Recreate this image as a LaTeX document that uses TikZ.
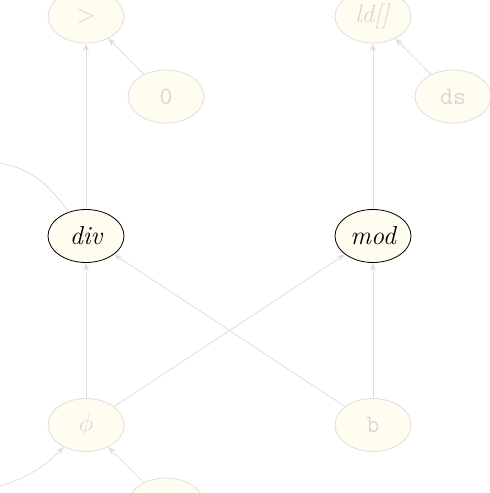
\documentclass[tikz,border=0pt]{standalone}
\usepackage{fontspec}
\usetikzlibrary{shapes.geometric,arrows.meta}
\definecolor{Ivory}{HTML}{FFFDEF}
\definecolor{FadeLine}{HTML}{DEDEDE}
\definecolor{FadeText}{HTML}{D6D6D6}
\begin{document}
\begin{tikzpicture}[x=1pt,y=1pt,
	Faded/.style={ellipse, draw=FadeLine, fill=Ivory, text=FadeText, line width=0.8pt,
		minimum width=76pt, minimum height=53pt, inner sep=0pt, font=\fontsize{25pt}{27pt}\selectfont},
	Focus/.style={ellipse, draw=black, fill=Ivory, text=black, line width=0.8pt,
		minimum width=76pt, minimum height=53pt, inner sep=0pt, font=\fontsize{26pt}{28pt}\selectfont\itshape},
	Edge/.style={draw=FadeLine, line width=0.8pt, -{Stealth[length=8pt,width=6pt,inset=3pt]}}]
	\useasboundingbox (0,0) rectangle (490,493);
	\clip (0,0) rectangle (490,493);

	% Define > 0
	\node[Faded] (NodeGt) at (86,476.5) {$>$};
	\node[Faded] (NodeZero) at (166,396.5) {\ttfamily 0};

	% Define ld[] ds
	\node[Faded] (NodeLd) at (373,476.5) {\textit{ld[]}};
	\node[Faded] (NodeDs) at (453,396.5) {\ttfamily ds};

	% Define div mod
	\node[Focus] (NodeDiv) at (86,257) {div};
	\node[Focus] (NodeMod) at (373,257) {mod};
	\coordinate (OutLeft) at (-5,330);

	% Define phi b
	\node[Faded] (NodePhi) at (86,68) {$\phi$};
	\node[Faded] (NodeB) at (373,68) {\ttfamily b};
	\node[Faded] (NodeBot) at (166,-11.5) {};
	\coordinate (InLeft) at (-5,5);

	\draw[Edge] (NodeZero) -- (NodeGt);
	\draw[Edge] (NodeDiv) -- (NodeGt);
	\draw[Edge] (NodeDs) -- (NodeLd);
	\draw[Edge] (NodeMod) -- (NodeLd);
	\draw[Edge] (NodePhi) -- (NodeDiv);
	\draw[Edge] (NodeB) -- (NodeDiv);
	\draw[Edge] (NodePhi) -- (NodeMod);
	\draw[Edge] (NodeB) -- (NodeMod);
	\draw[Edge] (NodeBot) -- (NodePhi);
	\draw[Edge, -] (NodeDiv) to[out=126, in=-5] (OutLeft);
	\draw[Edge] (InLeft) to[out=18, in=-135] (NodePhi);
\end{tikzpicture}
\end{document}
